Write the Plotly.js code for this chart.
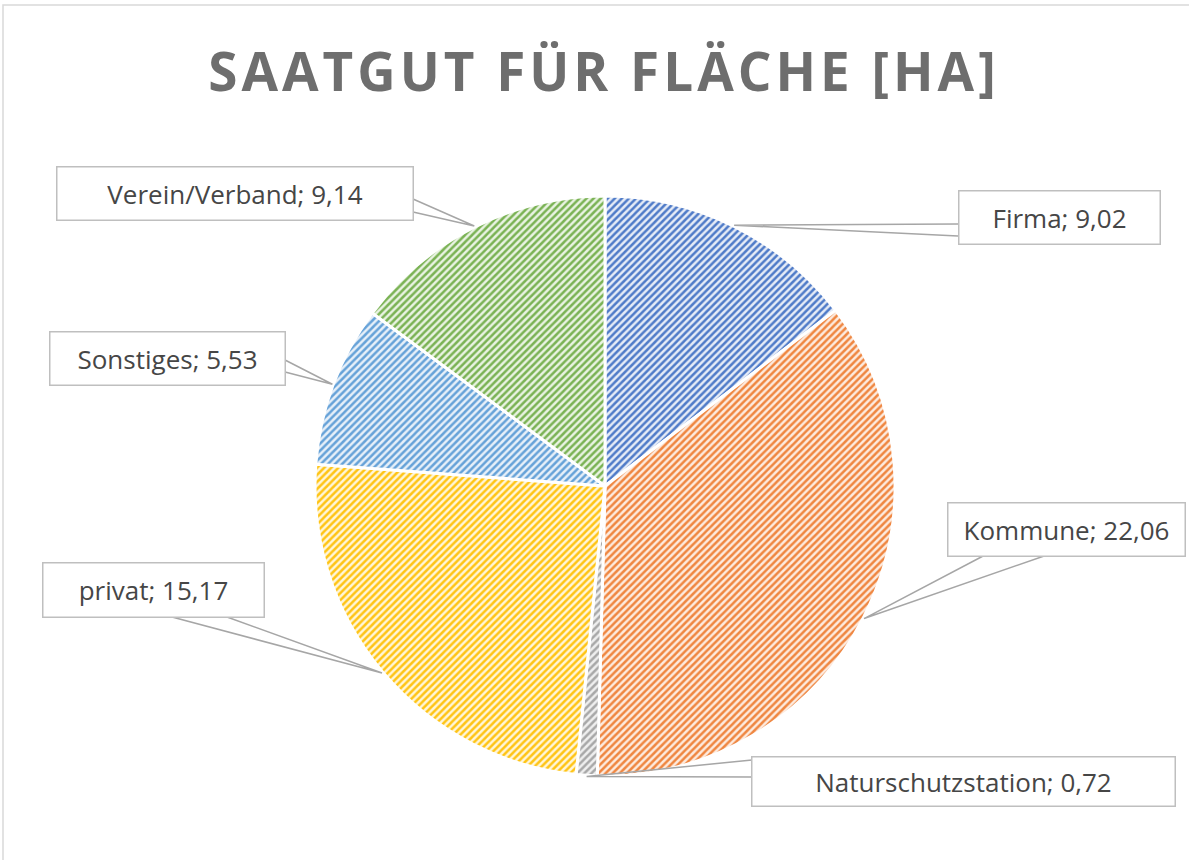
<!DOCTYPE html>
<html>
<head>
<meta charset="utf-8">
<script src="https://cdn.plot.ly/plotly-3.0.1.min.js"></script>
<style>
html,body{margin:0;padding:0;background:#fff;}
#chart{width:1189px;height:860px;}
.gtitle{letter-spacing:4px;}
</style>
</head>
<body>
<div id="chart"></div>
<script>
// ---- data ----
const categories = ['Firma', 'Kommune', 'Naturschutzstation', 'privat', 'Sonstiges', 'Verein/Verband'];
const values = [9.02, 22.06, 0.72, 15.17, 5.53, 9.14];
const titleText = 'SAATGUT FÜR FLÄCHE [HA]';

// ---- styling ----
const sliceColors = ['#4f7bc8', '#ef8640', '#a8a8a8', '#ffc415', '#66a2d8', '#7ab254'];
const sliceBg = ['#e6ecf7', '#fdebdf', '#efefef', '#fff6da', '#e7f0f9', '#e9f3e2'];
const W = 1189, H = 860;
const pieDomX = [315 / W, 895 / W];
const pieDomY = [1 - 776 / H, 1 - 196 / H];
// label box geometry in px: center, size, wedge base points
const boxes = [
  {cx: 1059, cy: 217, w: 200, h: 52, base: [[958, 224], [958, 236]]},
  {cx: 1066, cy: 529, w: 236, h: 52, base: [[985, 555], [1047, 555]]},
  {cx: 963, cy: 781, w: 422, h: 48, base: [[752, 760], [752, 777]]},
  {cx: 153, cy: 590, w: 220, h: 53, base: [[172, 617], [227, 617]]},
  {cx: 167, cy: 359, w: 234, h: 52, base: [[285, 360], [285, 372]]},
  {cx: 235, cy: 193, w: 355, h: 52, base: [[413, 199], [413, 212]]}
];

const fmt = v => v.toFixed(2).replace('.', ',');
const total = values.reduce((a, b) => a + b, 0);
const cxPie = (pieDomX[0] + pieDomX[1]) / 2 * W;
const cyPie = (1 - (pieDomY[0] + pieDomY[1]) / 2) * H;
const R = Math.min((pieDomX[1] - pieDomX[0]) * W, (pieDomY[1] - pieDomY[0]) * H) / 2;

const annotations = [];
const shapes = [{
  type: 'rect', xref: 'paper', yref: 'paper',
  x0: 3 / W, x1: 1.01, y0: -0.01, y1: 1 - 5 / H,
  line: {color: '#d9d9d9', width: 1.5}, fillcolor: 'rgba(0,0,0,0)', layer: 'below'
}];
let cum = 0;
values.forEach((v, i) => {
  const mid = (cum + v / 2) / total * 2 * Math.PI;
  cum += v;
  const tx = cxPie + (R + 1) * Math.sin(mid);
  const ty = cyPie - (R + 1) * Math.cos(mid);
  const b = boxes[i];
  const px = x => x / W, py = y => 1 - y / H;
  shapes.push({
    type: 'path', xref: 'paper', yref: 'paper', layer: 'above',
    path: `M ${px(b.base[0][0])} ${py(b.base[0][1])} L ${px(tx)} ${py(ty)} L ${px(b.base[1][0])} ${py(b.base[1][1])}`,
    line: {color: '#a6a6a6', width: 1.5}
  });
  annotations.push({
    xref: 'paper', yref: 'paper', x: px(b.cx), y: py(b.cy),
    xanchor: 'center', yanchor: 'middle', showarrow: false,
    text: categories[i] + '; ' + fmt(v),
    width: b.w, height: b.h, borderpad: 0,
    bgcolor: '#ffffff', bordercolor: '#bfbfbf', borderwidth: 1.5,
    font: {family: 'Open Sans, sans-serif', size: 26, color: '#464646'}
  });
});

const trace = {
  type: 'pie',
  labels: categories,
  values: values,
  sort: false,
  direction: 'clockwise',
  rotation: 0,
  textinfo: 'none',
  hoverinfo: 'label+value',
  domain: {x: pieDomX, y: pieDomY},
  marker: {
    colors: sliceBg,
    line: {color: '#ffffff', width: 3},
    pattern: {shape: '/', fgcolor: sliceColors, bgcolor: sliceBg, size: 5, solidity: 0.5, fillmode: 'replace'}
  }
};

const layout = {
  width: W, height: H,
  margin: {l: 0, r: 0, t: 0, b: 0},
  paper_bgcolor: '#ffffff',
  showlegend: false,
  title: {
    text: '<b>' + titleText + '</b>',
    x: 0.508, xanchor: 'center', xref: 'paper',
    y: 1 - 72 / H, yanchor: 'middle', yref: 'paper',
    font: {family: 'Open Sans, sans-serif', size: 53, color: '#6e6e6e'}
  },
  annotations: annotations,
  shapes: shapes
};

Plotly.newPlot('chart', [trace], layout, {displayModeBar: false, staticPlot: true});
</script>
</body>
</html>
